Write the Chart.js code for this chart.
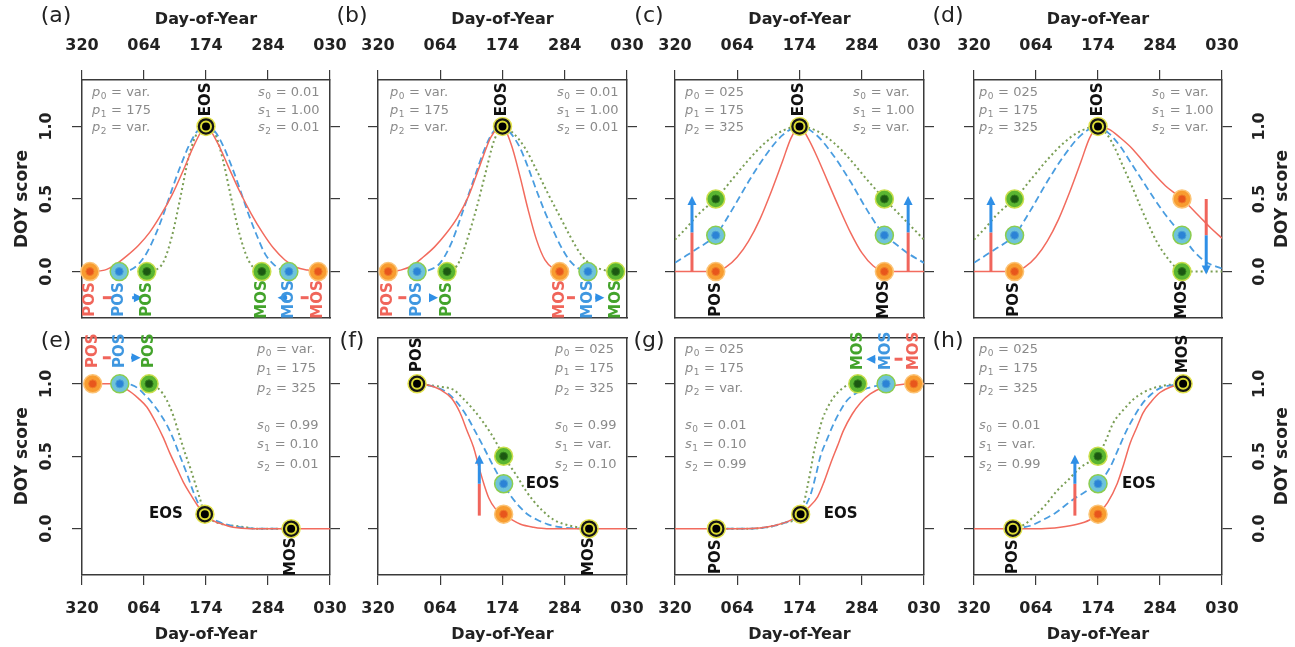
<!DOCTYPE html>
<html>
<head>
<meta charset="utf-8">
<title>DOY score</title>
<script src="https://cdn.jsdelivr.net/npm/chart.js@4.4.1/dist/chart.umd.min.js"></script>
<style>
  html, body { margin: 0; padding: 0; background: #fff; }
  body { width: 1295px; height: 647px; position: relative; overflow: hidden; }
  canvas { position: absolute; }
</style>
</head>
<body>
<script>
// x = days counted from DOY 320
var ticksX = [0, 110, 220, 330, 440];
var tickLabelsX = ['320', '064', '174', '284', '030'];
var ticksY = [0, 0.5, 1];
var tickLabelsY = ['0.0', '0.5', '1.0'];

// (a)
var aRed = [[14,0],[40,0.01],[60,0.05],[80,0.11],[100,0.18],[120,0.27],[140,0.39],[160,0.53],[180,0.7],[200,0.88],[220,1],[240,0.89],[260,0.72],[280,0.55],[300,0.4],[320,0.27],[340,0.16],[360,0.08],[380,0.03],[400,0.01],[419,0]];
var aBlue = [[66,0],[85,0.01],[100,0.05],[115,0.13],[130,0.25],[145,0.4],[160,0.57],[175,0.73],[190,0.87],[205,0.97],[220,1],[235,0.97],[250,0.87],[265,0.73],[280,0.57],[295,0.4],[310,0.25],[325,0.12],[340,0.05],[355,0.01],[367,0]];
var aGreen = [[115,0],[130,0.01],[145,0.07],[160,0.25],[175,0.52],[190,0.8],[205,0.96],[220,1],[235,0.96],[250,0.77],[265,0.5],[280,0.25],[295,0.08],[310,0.01],[319,0]];
var aDots = [[14,0,'r'],[66,0,'b'],[115,0,'g'],[319,0,'g'],[367,0,'b'],[419,0,'r'],[220,1,'k']];
var aText = [['EOS',220,1,'k',0,-27,1],['POS',14,0,'r',0,28,1],['POS',66,0,'b',0,28,1],['POS',115,0,'g',0,28,1],['MOS',319,0,'g',0,28,1],['MOS',367,0,'b',0,28,1],['MOS',419,0,'r',0,28,1]];
var aArrows = [[37,-0.18,53,-0.18,'r',0],[89,-0.18,108,-0.18,'b',1],[364,-0.18,347,-0.18,'b',1],[388,-0.18,402,-0.18,'r',0]];
var aP = ['var.', '175', 'var.'];
var aS = ['0.01', '1.00', '0.01'];

// (b)
var bRed = [[18,0],[40,0.01],[60,0.04],[80,0.1],[100,0.17],[120,0.26],[140,0.37],[160,0.52],[180,0.73],[200,0.93],[220,1],[235,0.88],[250,0.67],[265,0.43],[280,0.22],[295,0.08],[310,0.02],[321,0]];
var bBlue = [[69,0],[90,0.01],[110,0.06],[130,0.2],[145,0.36],[160,0.53],[175,0.7],[190,0.86],[205,0.97],[220,1],[235,0.95],[250,0.86],[265,0.72],[280,0.56],[295,0.41],[310,0.28],[325,0.16],[340,0.07],[355,0.02],[371,0]];
var bGreen = [[122,0],[135,0.02],[145,0.08],[160,0.25],[175,0.45],[190,0.68],[205,0.9],[220,1],[240,0.95],[260,0.85],[280,0.7],[300,0.54],[320,0.39],[340,0.24],[360,0.11],[380,0.04],[400,0.01],[420,0]];
var bDots = [[18,0,'r'],[69,0,'b'],[122,0,'g'],[321,0,'r'],[371,0,'b'],[420,0,'g'],[220,1,'k']];
var bText = [['EOS',220,1,'k',0,-27,1],['POS',18,0,'r',0,28,1],['POS',69,0,'b',0,28,1],['POS',122,0,'g',0,28,1],['MOS',321,0,'r',0,28,1],['MOS',371,0,'b',0,28,1],['MOS',420,0,'g',0,28,1]];
var bArrows = [[36,-0.18,50,-0.18,'r',0],[91,-0.18,106,-0.18,'b',1],[334,-0.18,348,-0.18,'r',0],[384,-0.18,400,-0.18,'b',1]];
var bP = ['var.', '175', 'var.'];
var bS = ['0.01', '1.00', '0.01'];

// (c)
var cRed = [[0,0],[72,0],[90,0.03],[110,0.1],[130,0.21],[150,0.36],[170,0.55],[190,0.76],[205,0.92],[220,1],[235,0.92],[250,0.8],[270,0.62],[290,0.44],[310,0.27],[330,0.13],[350,0.04],[370,0],[440,0]];
var cBlue = [[0,0.06],[20,0.11],[40,0.16],[60,0.21],[72,0.25],[100,0.42],[130,0.62],[160,0.8],[190,0.94],[220,1],[250,0.94],[280,0.8],[310,0.62],[340,0.42],[370,0.25],[390,0.19],[410,0.13],[440,0.06]];
var cGreen = [[0,0.22],[20,0.3],[40,0.39],[60,0.46],[72,0.5],[100,0.63],[130,0.77],[160,0.89],[190,0.97],[220,1],[250,0.97],[280,0.89],[310,0.77],[340,0.63],[370,0.5],[390,0.42],[410,0.34],[440,0.22]];
var cDots = [[72,0,'r'],[72,0.25,'b'],[72,0.5,'g'],[370,0,'r'],[370,0.25,'b'],[370,0.5,'g'],[220,1,'k']];
var cText = [['EOS',220,1,'k',0,-27,1],['POS',72,0,'k',0,28,1],['MOS',370,0,'k',0,28,1]];
var cArrows = [[30,0,30,0.27,'r',0],[30,0.27,30,0.52,'b',1],[412,0,412,0.27,'r',0],[412,0.27,412,0.52,'b',1]];
var cP = ['025', '175', '325'];
var cS = ['var.', '1.00', 'var.'];

// (d)
var dRed = [[0,0],[72,0],[90,0.03],[110,0.1],[130,0.21],[150,0.36],[170,0.55],[190,0.76],[205,0.92],[220,1],[240,0.98],[260,0.92],[280,0.85],[300,0.76],[320,0.67],[340,0.59],[369,0.5],[400,0.38],[420,0.3],[440,0.23]];
var dBlue = [[0,0.06],[20,0.11],[40,0.16],[60,0.21],[72,0.25],[100,0.42],[130,0.62],[160,0.8],[190,0.94],[220,1],[240,0.95],[260,0.86],[280,0.74],[300,0.62],[320,0.5],[340,0.39],[369,0.25],[390,0.14],[410,0.07],[440,0.02]];
var dGreen = [[0,0.22],[20,0.3],[40,0.39],[60,0.46],[72,0.5],[100,0.63],[130,0.77],[160,0.89],[190,0.97],[220,1],[235,0.95],[250,0.85],[265,0.72],[280,0.59],[295,0.45],[310,0.32],[325,0.2],[340,0.11],[355,0.04],[369,0],[440,0]];
var dDots = [[72,0,'r'],[72,0.25,'b'],[72,0.5,'g'],[369,0.5,'r'],[369,0.25,'b'],[369,0,'g'],[220,1,'k']];
var dText = [['EOS',220,1,'k',0,-27,1],['POS',72,0,'k',0,28,1],['MOS',369,0,'k',0,28,1]];
var dArrows = [[30,0,30,0.27,'r',0],[30,0.27,30,0.52,'b',1],[412,0.5,412,0.25,'r',0],[412,0.25,412,-0.02,'b',1]];
var dP = ['025', '175', '325'];
var dS = ['var.', '1.00', 'var.'];

// (e)
var eRed = [[19,1],[50,1],[80,0.96],[100,0.9],[115,0.84],[130,0.74],[144,0.63],[156,0.52],[168,0.42],[180,0.32],[192,0.24],[205,0.16],[218,0.1],[235,0.05],[250,0.03],[268,0.01],[300,0],[440,0]];
var eBlue = [[67,1],[90,0.99],[115,0.91],[130,0.84],[150,0.72],[162,0.62],[174,0.5],[186,0.38],[197,0.26],[208,0.16],[218,0.1],[235,0.06],[255,0.03],[280,0.01],[310,0],[371,0]];
var eGreen = [[119,1],[135,0.97],[150,0.89],[162,0.78],[174,0.63],[183,0.52],[192,0.42],[201,0.31],[209,0.21],[218,0.1],[230,0.06],[250,0.03],[270,0.02],[290,0.01],[310,0],[371,0]];
var eDots = [[19,1,'r'],[67,1,'b'],[119,1,'g'],[218,0.1,'k'],[371,0,'k']];
var eText = [['POS',19,1,'r',0,-33,1],['POS',67,1,'b',0,-33,1],['POS',119,1,'g',0,-33,1],['EOS',218,0.1,'k',-22,0,0],['MOS',371,0,'k',0,28,1]];
var eArrows = [[37,1.18,51,1.18,'r',0],[87,1.18,104,1.18,'b',1]];
var eP = ['var.', '175', '325'];
var eS = ['0.99', '0.10', '0.01'];

// (f)
var fRed = [[69,1],[90,0.99],[110,0.96],[130,0.9],[145,0.8],[157,0.68],[169,0.56],[178,0.43],[187,0.31],[196,0.21],[207,0.14],[222,0.1],[237,0.06],[252,0.03],[275,0.01],[298,0],[440,0]];
var fBlue = [[69,1],[100,0.98],[122,0.94],[140,0.87],[158,0.77],[172,0.67],[187,0.56],[200,0.46],[211,0.38],[222,0.31],[234,0.23],[246,0.17],[264,0.1],[282,0.06],[300,0.03],[323,0.01],[373,0]];
var fGreen = [[69,1],[110,0.98],[133,0.96],[150,0.9],[169,0.82],[185,0.74],[199,0.66],[211,0.58],[222,0.5],[234,0.43],[246,0.36],[260,0.27],[275,0.19],[292,0.12],[311,0.06],[340,0.02],[373,0]];
var fDots = [[69,1,'k'],[222,0.1,'r'],[222,0.31,'b'],[222,0.5,'g'],[373,0,'k']];
var fText = [['POS',69,1,'k',0,-29,1],['EOS',222,0.31,'k',22,0,0],['MOS',373,0,'k',0,28,1]];
var fArrows = [[179,0.09,179,0.31,'r',0],[179,0.31,179,0.51,'b',1]];
var fP = ['025', '175', '325'];
var fS = ['0.99', 'var.', '0.10'];

// (g)
var gRed = [[0,0],[73,0],[120,0],[150,0.005],[174,0.02],[200,0.05],[222,0.1],[237,0.15],[252,0.22],[264,0.33],[275,0.45],[287,0.57],[298,0.68],[313,0.79],[328,0.87],[345,0.93],[364,0.97],[390,0.99],[422,1],[440,1]];
var gBlue = [[73,0],[130,0],[163,0.01],[193,0.04],[222,0.1],[231,0.16],[240,0.24],[249,0.37],[257,0.5],[269,0.62],[281,0.73],[293,0.82],[305,0.89],[322,0.94],[340,0.97],[373,1]];
var gGreen = [[73,0],[130,0],[163,0.01],[193,0.04],[222,0.1],[228,0.18],[234,0.29],[240,0.41],[246,0.54],[253,0.65],[260,0.75],[270,0.84],[281,0.91],[293,0.96],[305,0.99],[323,1]];
var gDots = [[73,0,'k'],[222,0.1,'k'],[323,1,'g'],[373,1,'b'],[422,1,'r']];
var gText = [['POS',73,0,'k',0,28,1],['EOS',222,0.1,'k',23,0,0],['MOS',323,1,'g',0,-33,1],['MOS',373,1,'b',0,-33,1],['MOS',422,1,'r',0,-33,1]];
var gArrows = [[354,1.17,338,1.17,'b',1],[388,1.17,402,1.17,'r',0]];
var gP = ['025', '175', 'var.'];
var gS = ['0.01', '0.10', '0.99'];

// (h)
var hRed = [[0,0],[69,0],[120,0],[153,0.01],[183,0.03],[205,0.06],[220,0.1],[237,0.18],[254,0.31],[266,0.45],[277,0.59],[289,0.7],[300,0.8],[315,0.88],[330,0.94],[350,0.98],[371,1]];
var hBlue = [[69,0],[100,0.02],[122,0.06],[145,0.11],[165,0.17],[183,0.22],[200,0.26],[220,0.31],[241,0.42],[256,0.55],[271,0.68],[285,0.78],[300,0.87],[315,0.93],[330,0.97],[350,0.99],[371,1]];
var hGreen = [[69,0],[90,0.03],[105,0.08],[126,0.16],[147,0.26],[168,0.34],[188,0.42],[204,0.46],[220,0.5],[234,0.61],[247,0.73],[265,0.82],[282,0.89],[300,0.94],[318,0.97],[340,0.99],[371,1]];
var hDots = [[69,0,'k'],[220,0.1,'r'],[220,0.31,'b'],[220,0.5,'g'],[371,1,'k']];
var hText = [['POS',69,0,'k',0,28,1],['EOS',220,0.31,'k',24,0,0],['MOS',371,1,'k',0,-30,1]];
var hArrows = [[179,0.09,179,0.31,'r',0],[179,0.31,179,0.51,'b',1]];
var hP = ['025', '175', '325'];
var hS = ['0.01', 'var.', '0.99'];

Chart.defaults.font.family = '"DejaVu Sans", sans-serif';
Chart.defaults.color = '#222';

var lineCol = {r: '#f26b5e', b: '#4a9de0', g: '#7a9e55'};
var textCol = {r: '#f0655a', b: '#3f97e0', g: '#43a32b', k: '#111'};
var arrowCol = {r: '#f0655c', b: '#2f8fe6'};
var mk = {
  r: {fill: '#f89c30', ring: '#fcc476', dot: '#e8561c', dotRing: '#f07a28', rad: 4, w: 1},
  b: {fill: '#6ec3da', ring: '#8ccd4e', dot: '#2b83d6', dotRing: '#4aa0d8', rad: 4, w: 1},
  g: {fill: '#5ab531', ring: '#c9df4c', dot: '#1c5812', dotRing: '#2f7d1c', rad: 4, w: 1},
  k: {fill: '#151515', ring: '#e3e34c', dot: '#000000', dotRing: '#dcdc34', rad: 5, w: 2}
};

var panels = [
  {n:'a', L:82, R:330, top:true, red:aRed, blue:aBlue, green:aGreen, dots:aDots, text:aText, arrows:aArrows, p:aP, s:aS, pX:10, pY:13, sX:176, sY:13, gap:17.5, yLeft:true},
  {n:'b', L:378, R:627, top:true, red:bRed, blue:bBlue, green:bGreen, dots:bDots, text:bText, arrows:bArrows, p:bP, s:bS, pX:12, pY:13, sX:179, sY:13, gap:17.5},
  {n:'c', L:675, R:924, top:true, red:cRed, blue:cBlue, green:cGreen, dots:cDots, text:cText, arrows:cArrows, p:cP, s:cS, pX:10, pY:13, sX:178, sY:13, gap:17.5},
  {n:'d', L:974, R:1222, top:true, red:dRed, blue:dBlue, green:dGreen, dots:dDots, text:dText, arrows:dArrows, p:dP, s:dS, pX:5, pY:13, sX:178, sY:13, gap:17.5, yRight:true},
  {n:'e', L:82, R:330, top:false, red:eRed, blue:eBlue, green:eGreen, dots:eDots, text:eText, arrows:eArrows, p:eP, s:eS, pX:175, pY:12, sX:175, sY:88, gap:19.5, yLeft:true},
  {n:'f', L:378, R:627, top:false, red:fRed, blue:fBlue, green:fGreen, dots:fDots, text:fText, arrows:fArrows, p:fP, s:fS, pX:177, pY:12, sX:177, sY:88, gap:19.5},
  {n:'g', L:675, R:924, top:false, red:gRed, blue:gBlue, green:gGreen, dots:gDots, text:gText, arrows:gArrows, p:gP, s:gS, pX:10, pY:12, sX:10, sY:88, gap:19.5},
  {n:'h', L:974, R:1222, top:false, red:hRed, blue:hBlue, green:hGreen, dots:hDots, text:hText, arrows:hArrows, p:hP, s:hS, pX:5, pY:12, sX:5, sY:88, gap:19.5, yRight:true}
];

function pts(arr) {
  return arr.map(function(d) { return {x: d[0], y: d[1]}; });
}

function drawParam(ctx, sym, sub, val, x, y) {
  ctx.fillStyle = '#8a8a8a';
  ctx.textAlign = 'left';
  ctx.textBaseline = 'middle';
  ctx.font = 'italic 13px "DejaVu Sans"';
  ctx.fillText(sym, x, y);
  var w = ctx.measureText(sym).width;
  ctx.font = '9px "DejaVu Sans"';
  ctx.fillText(sub, x + w + 0.5, y + 4);
  var w2 = ctx.measureText(sub).width;
  ctx.font = '13px "DejaVu Sans"';
  ctx.fillText(' = ' + val, x + w + w2 + 1, y);
}

function vText(ctx, txt, x, y) {
  ctx.save();
  ctx.translate(x, y);
  ctx.rotate(-Math.PI / 2);
  ctx.textAlign = 'center';
  ctx.textBaseline = 'middle';
  ctx.fillText(txt, 0, 0);
  ctx.restore();
}

function decoPlugin(p) {
  return {
    id: 'deco',
    afterDatasetsDraw: function(chart) {
      var ctx = chart.ctx, xs = chart.scales.x, ys = chart.scales.y, ca = chart.chartArea;
      ctx.save();

      // arrows
      p.arrows.forEach(function(a) {
        var x1 = xs.getPixelForValue(a[0]), y1 = ys.getPixelForValue(a[1]);
        var x2 = xs.getPixelForValue(a[2]), y2 = ys.getPixelForValue(a[3]);
        var ang = Math.atan2(y2 - y1, x2 - x1);
        var hl = a[5] ? 8 : 0;
        ctx.strokeStyle = arrowCol[a[4]];
        ctx.fillStyle = arrowCol[a[4]];
        ctx.lineWidth = 3;
        ctx.beginPath();
        ctx.moveTo(x1, y1);
        ctx.lineTo(x2 - hl * Math.cos(ang), y2 - hl * Math.sin(ang));
        ctx.stroke();
        if (a[5]) {
          ctx.beginPath();
          ctx.moveTo(x2, y2);
          ctx.lineTo(x2 - 9 * Math.cos(ang) + 4.5 * Math.sin(ang), y2 - 9 * Math.sin(ang) - 4.5 * Math.cos(ang));
          ctx.lineTo(x2 - 9 * Math.cos(ang) - 4.5 * Math.sin(ang), y2 - 9 * Math.sin(ang) + 4.5 * Math.cos(ang));
          ctx.closePath();
          ctx.fill();
        }
      });

      // marker labels
      ctx.font = 'bold 15px "DejaVu Sans"';
      p.text.forEach(function(t) {
        var x = xs.getPixelForValue(t[1]) + t[4], y = ys.getPixelForValue(t[2]) + t[5];
        ctx.fillStyle = textCol[t[3]];
        if (t[6]) {
          vText(ctx, t[0], x, y);
        } else {
          ctx.textAlign = t[4] < 0 ? 'right' : 'left';
          ctx.textBaseline = 'middle';
          ctx.fillText(t[0], x, y);
        }
      });

      // parameter notes
      for (var i = 0; i < 3; i++) {
        drawParam(ctx, 'p', String(i), p.p[i], ca.left + p.pX, ca.top + p.pY + i * p.gap);
        drawParam(ctx, 's', String(i), p.s[i], ca.left + p.sX, ca.top + p.sY + i * p.gap);
      }

      // panel letter
      ctx.fillStyle = '#222';
      ctx.font = '22px "DejaVu Sans"';
      ctx.textAlign = 'center';
      ctx.textBaseline = 'middle';
      ctx.fillText('(' + p.n + ')', ca.left - 26, p.top ? 16 : ca.top + 4);

      // y axis labels (rotated like the original)
      ctx.fillStyle = '#222';
      if (p.yLeft || p.yRight) {
        var tx = p.yLeft ? ca.left - 35 : ca.right + 38;
        var lx = p.yLeft ? ca.left - 59 : ca.right + 61;
        ctx.font = 'bold 16px "DejaVu Sans"';
        ticksY.forEach(function(v, k) {
          vText(ctx, tickLabelsY[k], tx, ys.getPixelForValue(v));
        });
        ctx.font = 'bold 17px "DejaVu Sans"';
        vText(ctx, 'DOY score', lx, ys.getPixelForValue(0.5));
      }
      ctx.restore();
    }
  };
}

function makePanel(p) {
  var cv = document.createElement('canvas');
  var w = 82 + (p.R - p.L) + 73;
  var h = p.top ? 330 : 320;
  cv.width = w;
  cv.height = h;
  cv.style.left = (p.L - 82) + 'px';
  cv.style.top = (p.top ? 0 : 327) + 'px';
  cv.style.width = w + 'px';
  cv.style.height = h + 'px';
  document.body.appendChild(cv);

  var frame = {color: '#3a3a3a', width: 1.5};
  var yAxis = function(pos, width) {
    return {
      type: 'linear', position: pos, min: -0.32, max: 1.32,
      afterBuildTicks: function(s) { s.ticks = ticksY.map(function(v) { return {value: v}; }); },
      afterFit: function(s) { s.width = width; },
      ticks: {display: false},
      grid: {drawOnChartArea: false, tickLength: 10, color: '#3a3a3a', lineWidth: 1.2},
      border: frame
    };
  };

  var curves = [
    {type: 'line', data: pts(p.red), borderColor: lineCol.r, borderWidth: 1.5, order: 3},
    {type: 'line', data: pts(p.blue), borderColor: lineCol.b, borderWidth: 1.8, borderDash: [7, 4], order: 3},
    {type: 'line', data: pts(p.green), borderColor: lineCol.g, borderWidth: 2, borderDash: [2, 3], order: 3}
  ];
  curves.forEach(function(c) {
    c.pointRadius = 0;
    c.fill = false;
    c.cubicInterpolationMode = 'monotone';
    c.xAxisID = 'x';
    c.yAxisID = 'y';
  });

  var outer = {
    type: 'scatter', data: pts(p.dots), xAxisID: 'x', yAxisID: 'y', order: 1, clip: false,
    pointRadius: 9,
    pointBackgroundColor: p.dots.map(function(d) { return mk[d[2]].fill; }),
    pointBorderColor: p.dots.map(function(d) { return mk[d[2]].ring; }),
    pointBorderWidth: 1.5
  };
  var inner = {
    type: 'scatter', data: pts(p.dots), xAxisID: 'x', yAxisID: 'y', order: 0, clip: false,
    pointRadius: p.dots.map(function(d) { return mk[d[2]].rad; }),
    pointBackgroundColor: p.dots.map(function(d) { return mk[d[2]].dot; }),
    pointBorderColor: p.dots.map(function(d) { return mk[d[2]].dotRing; }),
    pointBorderWidth: p.dots.map(function(d) { return mk[d[2]].w; })
  };

  new Chart(cv, {
    type: 'scatter',
    data: {datasets: [inner, outer].concat(curves)},
    options: {
      responsive: false,
      animation: false,
      devicePixelRatio: 1,
      layout: {padding: p.top ? {left: 0, right: 0, top: 0, bottom: 12} : {left: 0, right: 0, top: 10, bottom: 0}},
      plugins: {legend: {display: false}, tooltip: {enabled: false}},
      scales: {
        x: {
          type: 'linear', position: p.top ? 'top' : 'bottom', min: 0, max: 440,
          afterBuildTicks: function(s) { s.ticks = ticksX.map(function(v) { return {value: v}; }); },
          afterFit: function(s) { s.height = p.top ? 80 : 72; },
          ticks: {
            callback: function(v, i) { return tickLabelsX[i]; },
            font: {size: 16, weight: 'bold'}, color: '#222',
            padding: p.top ? 15 : 14, maxRotation: 0, autoSkip: false
          },
          grid: {drawOnChartArea: false, tickLength: 10, color: '#3a3a3a', lineWidth: 1.2},
          border: frame,
          title: {
            display: true, text: 'Day-of-Year', color: '#222',
            font: {size: 16, weight: 'bold'},
            padding: p.top ? {top: 10, bottom: 0} : {top: 0, bottom: 3}
          }
        },
        x2: {
          type: 'linear', position: p.top ? 'bottom' : 'top', min: 0, max: 440,
          afterFit: function(s) { s.height = 0; },
          ticks: {display: false},
          grid: {drawOnChartArea: false, drawTicks: false},
          border: frame
        },
        y: yAxis('left', 82),
        y2: yAxis('right', 73)
      }
    },
    plugins: [decoPlugin(p)]
  });
}

panels.forEach(makePanel);
</script>
</body>
</html>
